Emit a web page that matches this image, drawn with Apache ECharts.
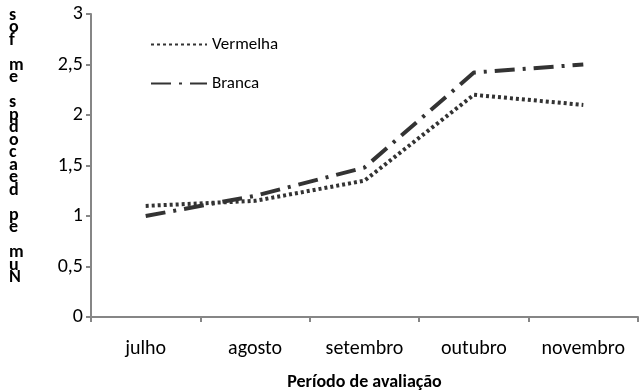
<!DOCTYPE html>
<html><head><meta charset="utf-8">
<script src="https://cdn.jsdelivr.net/npm/echarts@6/dist/echarts.min.js"></script>
<style>html,body{margin:0;padding:0;background:#fff}#c{width:639px;height:391px}</style>
</head><body><div id="c"></div>
<script>
var categories = ['julho', 'agosto', 'setembro', 'outubro', 'novembro'];
var vermelha = [1.1, 1.15, 1.35, 2.2, 2.1];
var branca = [1.0, 1.2, 1.48, 2.42, 2.5];
var yTitleChars = ['s','o','f','','m','e','','s','p','d','o','c','a','e','d','','p','e','','m','u','N'];
var xTitle = 'Período de avaliação';
var FONT = "Carlito, 'Liberation Sans Narrow', 'Open Sans', sans-serif";

var chart = echarts.init(document.getElementById('c'), null, {renderer: 'canvas'});
chart.setOption({
  animation: false,
  backgroundColor: '#fff',
  textStyle: {fontFamily: FONT},
  grid: {left: 91, right: 1, top: 14, bottom: 74, containLabel: false, outerBoundsMode: 'none'},
  legend: {
    orient: 'vertical', left: 145, top: 31, itemGap: 22,
    itemWidth: 56, itemHeight: 18,
    itemStyle: {opacity: 0},
    textStyle: {fontSize: 17, color: '#000', fontFamily: FONT},
    data: ['Vermelha', 'Branca']
  },
  xAxis: {
    type: 'category', data: categories, boundaryGap: true,
    axisLine: {lineStyle: {color: '#868686', width: 2}},
    axisTick: {show: true, length: 5, lineStyle: {color: '#868686', width: 2}},
    axisLabel: {fontSize: 20, color: '#000', margin: 22, fontFamily: FONT},
    name: xTitle, nameLocation: 'middle', nameGap: 56,
    nameTextStyle: {fontSize: 18, fontWeight: 'bold', color: '#000', fontFamily: FONT}
  },
  yAxis: {
    type: 'value', min: 0, max: 3, interval: 0.5,
    axisLine: {show: true, lineStyle: {color: '#868686', width: 2}},
    axisTick: {show: true, length: 5, lineStyle: {color: '#868686', width: 2}},
    splitLine: {show: false},
    axisLabel: {fontSize: 20, color: '#000', margin: 8, fontFamily: FONT,
      formatter: function (v) { return String(v).replace('.', ','); }}
  },
  graphic: [{
    type: 'text', left: 9, top: 6,
    style: {text: yTitleChars.join('\n'), font: 'bold 18px ' + FONT, fill: '#000', lineHeight: 12.5}
  }],
  series: [
    {name: 'Vermelha', type: 'line', data: vermelha, symbol: 'none',
      lineStyle: {color: '#333', width: 4, type: [3, 3]}, itemStyle: {color: '#333'}},
    {name: 'Branca', type: 'line', data: branca, symbol: 'none',
      lineStyle: {color: '#333', width: 4, type: [20, 8, 3, 8]}, itemStyle: {color: '#333'}}
  ]
});
</script></body></html>
